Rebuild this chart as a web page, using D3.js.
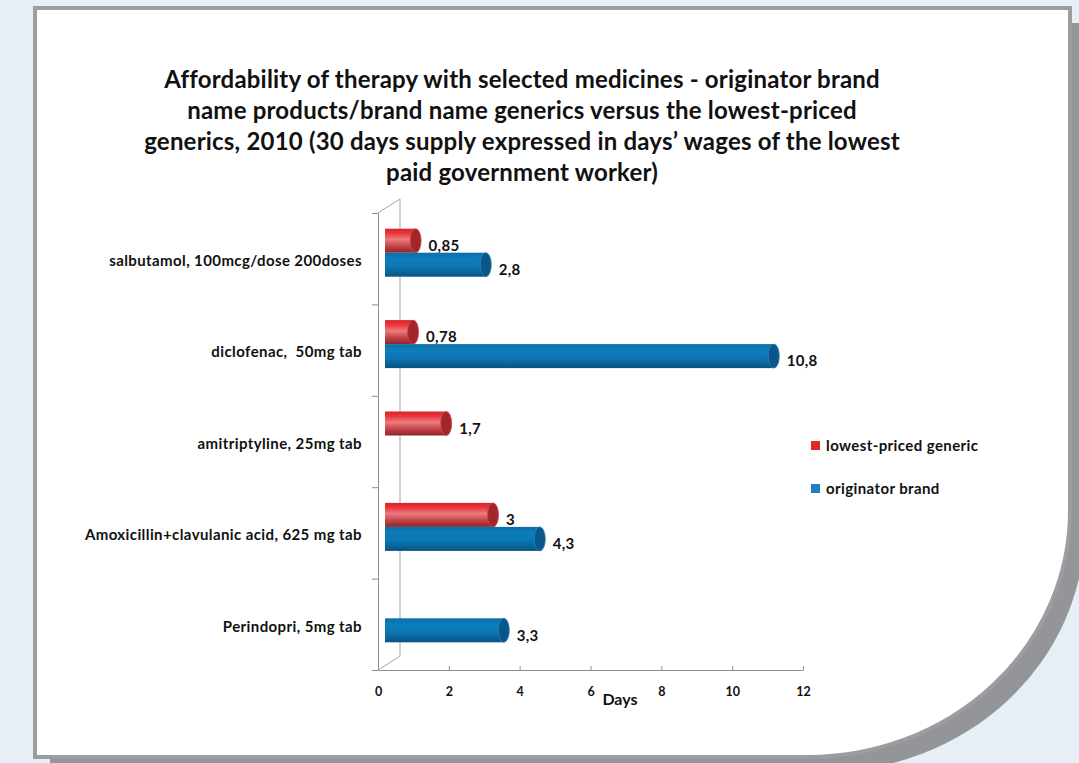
<!DOCTYPE html>
<html>
<head>
<meta charset="utf-8">
<script src="https://cdn.jsdelivr.net/npm/d3@7"></script>
<style>
  html, body { margin: 0; padding: 0; background: #e6eef6; }
  svg { display: block; font-family: Lato, "Open Sans", sans-serif; }
</style>
</head>
<body>
<svg id="chart" width="1079" height="763"></svg>
<script>
var titleLines = [
  "Affordability of therapy with selected medicines - originator brand",
  "name products/brand name generics versus the lowest-priced",
  "generics, 2010 (30 days supply expressed in days\u2019 wages of the lowest",
  "paid government worker)"
];
var categories = [
  "salbutamol, 100mcg/dose 200doses",
  "diclofenac,  50mg tab",
  "amitriptyline, 25mg tab",
  "Amoxicillin+clavulanic acid, 625 mg tab",
  "Perindopri, 5mg tab"
];
var seriesNames = ["lowest-priced generic", "originator brand"];
var genericValues = [0.85, 0.78, 1.7, 3, null];
var brandValues = [2.8, 10.8, null, 4.3, 3.3];
var xTicks = [0, 2, 4, 6, 8, 10, 12];

var svg = d3.select("#chart");
var defs = svg.append("defs");

// card with shadow and curled bottom-right corner
function cardPath(x0, y0, x1, y1, rx, ry) {
  return "M" + x0 + "," + y0 + "H" + x1 + "V" + (y1 - ry) +
    "A" + rx + "," + ry + " 0 0 1 " + (x1 - rx) + "," + y1 +
    "H" + x0 + "Z";
}
svg.append("path")
  .attr("d", cardPath(50, 23, 1085, 772, 262, 246))
  .attr("fill", "#939598");
svg.append("path")
  .attr("d", cardPath(35, 8, 1070, 757, 262, 246))
  .attr("fill", "#fff")
  .attr("stroke", "#9b9da0")
  .attr("stroke-width", 4);

// title
svg.append("g").selectAll("text")
  .data(titleLines)
  .enter().append("text")
  .attr("x", 522)
  .attr("y", (d, i) => 88 + i * 31)
  .attr("text-anchor", "middle")
  .attr("font-size", 24)
  .attr("letter-spacing", 0.2)
  .attr("font-weight", "bold")
  .attr("fill", "#111")
  .text(d => d);

// scales
var x = d3.scaleLinear().domain([0, 12]).range([378, 803]);
var xBar = d3.scaleLinear().domain([0, 12]).range([385, 817]);
var y = d3.scaleBand().domain(categories).range([213, 670]);
var yTicks = d3.scaleLinear().domain([0, categories.length]).range([670, 213]);
var color = d3.scaleOrdinal().domain(seriesNames).range(["#e3262c", "#1f7fc0"]);
var barH = 24;
var depth = [22, -14];

// gradients for cylinder look
var grads = [
  { id: "g-red", stops: [[0, "#d8232a"], [0.18, "#e8343a"], [0.45, "#ec7b7f"], [0.72, "#c5454a"], [1, "#8e2528"]] },
  { id: "g-blue", stops: [[0, "#0b6fa8"], [0.25, "#0d7dba"], [0.55, "#0c78b4"], [0.8, "#0a659c"], [1, "#0a527f"]] }
];
grads.forEach(function (g) {
  var lg = defs.append("linearGradient").attr("id", g.id)
    .attr("x1", 0).attr("y1", 0).attr("x2", 0).attr("y2", 1);
  g.stops.forEach(function (s) {
    lg.append("stop").attr("offset", s[0]).attr("stop-color", s[1]);
  });
});
var capColors = ["#a3262b", "#0b5689"];
var capRims = ["#c9484c", "#2a7fb5"];

// 3D walls
var wall = svg.append("g").attr("stroke", "#a6a6a6").attr("fill", "none");
wall.append("line").attr("x1", x(0) + depth[0]).attr("y1", 213 + depth[1])
  .attr("x2", x(0) + depth[0]).attr("y2", 670 + depth[1]);
wall.append("line").attr("x1", x(0)).attr("y1", 213)
  .attr("x2", x(0) + depth[0]).attr("y2", 213 + depth[1]);
wall.append("line").attr("x1", x(0)).attr("y1", 670)
  .attr("x2", x(0) + depth[0]).attr("y2", 670 + depth[1]);

// axes
var xAxis = svg.append("g")
  .attr("transform", "translate(0,670)")
  .call(d3.axisBottom(x).tickValues(xTicks).tickSize(-4).tickSizeOuter(0).tickPadding(17));
xAxis.selectAll("path, line").attr("stroke", "#8f8f8f");
xAxis.selectAll("text").attr("font-size", 12.5).attr("font-weight", "bold")
  .attr("fill", "#111").attr("font-family", "Lato, sans-serif");

var yAxis = svg.append("g")
  .attr("transform", "translate(378,0)")
  .call(d3.axisLeft(yTicks).ticks(categories.length).tickFormat("").tickSize(6).tickSizeOuter(0));
yAxis.selectAll("path, line").attr("stroke", "#8f8f8f");

svg.append("text")
  .attr("x", 620).attr("y", 705)
  .attr("text-anchor", "middle")
  .attr("font-size", 16).attr("font-weight", "bold").attr("fill", "#111")
  .text("Days");

// category labels
svg.append("g").selectAll("text")
  .data(categories)
  .enter().append("text")
  .attr("x", 362)
  .attr("y", d => y(d) + y.bandwidth() / 2 + 2)
  .attr("dy", "0.35em")
  .attr("text-anchor", "end")
  .attr("font-size", 15).attr("letter-spacing", 0.4)
  .attr("font-weight", "bold").attr("fill", "#111")
  .style("white-space", "pre")
  .text(d => d);

// bars
var rows = [];
categories.forEach(function (c, i) {
  [genericValues[i], brandValues[i]].forEach(function (v, s) {
    if (v != null) rows.push({ cat: c, s: s, v: v });
  });
});

var bar = svg.append("g").selectAll("g")
  .data(rows)
  .enter().append("g")
  .attr("transform", d => "translate(0," + (y(d.cat) + y.bandwidth() / 2 - 6 + (d.s - 1) * barH) + ")");

bar.append("rect")
  .attr("x", xBar(0))
  .attr("y", 0)
  .attr("width", d => xBar(d.v) - xBar(0))
  .attr("height", barH)
  .attr("fill", d => "url(#" + grads[d.s].id + ")");

bar.append("ellipse")
  .attr("cx", d => xBar(d.v))
  .attr("cy", barH / 2)
  .attr("rx", 5.5)
  .attr("ry", barH / 2)
  .attr("fill", d => capColors[d.s])
  .attr("stroke", d => capRims[d.s])
  .attr("stroke-width", 0.8);

bar.append("text")
  .attr("x", d => xBar(d.v) + 13)
  .attr("y", barH / 2 + 5)
  .attr("dy", "0.35em")
  .attr("font-size", 15).attr("letter-spacing", 0.3)
  .attr("font-weight", "bold").attr("fill", "#111")
  .text(d => String(d.v).replace(".", ","));

// legend
var legend = svg.append("g").selectAll("g")
  .data(seriesNames)
  .enter().append("g")
  .attr("transform", (d, i) => "translate(811," + (441 + i * 43) + ")");
legend.append("rect").attr("width", 9).attr("height", 9).attr("fill", d => color(d));
legend.append("text")
  .attr("x", 15).attr("y", 4.5).attr("dy", "0.35em")
  .attr("font-size", 15).attr("letter-spacing", 0.4)
  .attr("font-weight", "bold").attr("fill", "#111")
  .text(d => d);
</script>
</body>
</html>
